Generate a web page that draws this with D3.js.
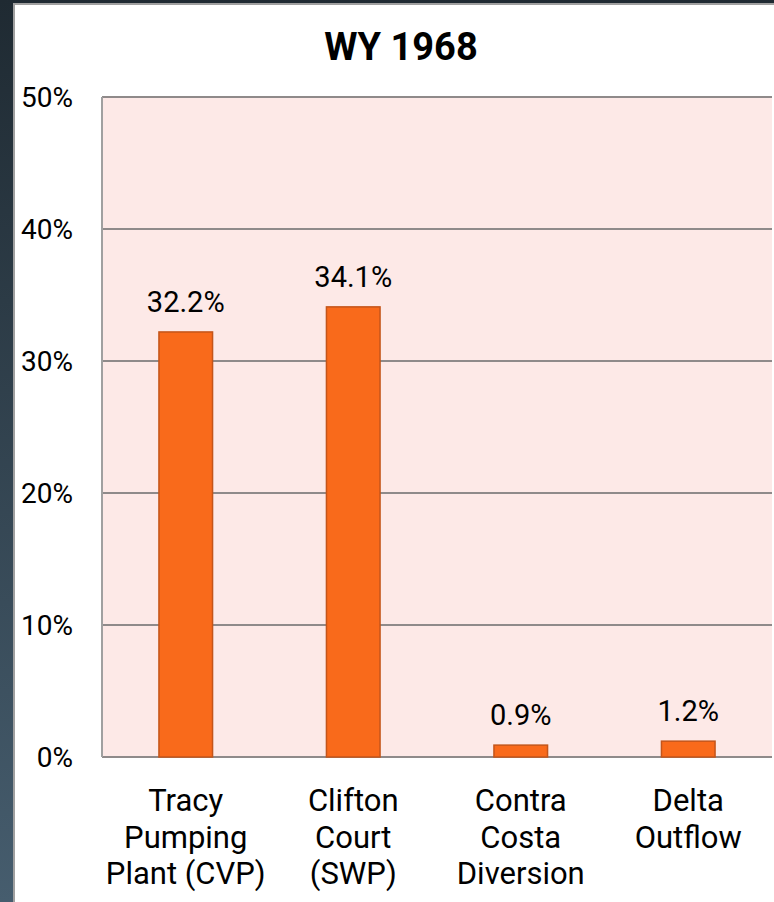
<!DOCTYPE html>
<html>
<head>
<meta charset="utf-8">
<script src="https://cdn.jsdelivr.net/npm/d3@7"></script>
<style>
  html, body { margin: 0; padding: 0; background: #26333d; }
  svg { display: block; }
  text { font-family: Roboto, "DejaVu Sans", sans-serif; fill: #000; }
</style>
</head>
<body>
<div id="wrapper"></div>
<script>
// data
const title = "WY 1968"
const categories = [
  ["Tracy", "Pumping", "Plant (CVP)"],
  ["Clifton", "Court", "(SWP)"],
  ["Contra", "Costa", "Diversion"],
  ["Delta", "Outflow"],
]
const shares = [32.2, 34.1, 0.9, 1.2]
const yTicks = [0, 10, 20, 30, 40, 50]

function drawBars() {

  // 1. Dimensions
  let dimensions = {
    width: 774,
    height: 902,
    margin: { top: 97, right: 2, bottom: 145, left: 102 },
  }
  dimensions.boundedWidth = dimensions.width
    - dimensions.margin.left
    - dimensions.margin.right
  dimensions.boundedHeight = dimensions.height
    - dimensions.margin.top
    - dimensions.margin.bottom

  // 2. Canvas
  const wrapper = d3.select("#wrapper")
    .append("svg")
      .attr("width", dimensions.width)
      .attr("height", dimensions.height)

  // slide background behind the chart panel
  const grad = wrapper.append("defs").append("linearGradient")
      .attr("id", "bg").attr("x1", 0).attr("y1", 0).attr("x2", 0).attr("y2", 1)
  grad.append("stop").attr("offset", "0%").attr("stop-color", "#1f2a32")
  grad.append("stop").attr("offset", "100%").attr("stop-color", "#465d6e")

  wrapper.append("rect")
      .attr("width", dimensions.width)
      .attr("height", dimensions.height)
      .attr("fill", "url(#bg)")

  wrapper.append("rect")
      .attr("x", 14)
      .attr("y", 4)
      .attr("width", dimensions.width)
      .attr("height", dimensions.height)
      .attr("fill", "#fff")
      .attr("stroke", "#a0a0a0")
      .attr("stroke-width", 2)

  const bounds = wrapper.append("g")
      .attr("transform", `translate(${dimensions.margin.left}, ${dimensions.margin.top})`)

  // 3. Scales
  const xScale = d3.scaleBand()
    .domain(d3.range(shares.length))
    .range([0, dimensions.boundedWidth])
    .paddingInner(0.68)
    .paddingOuter(0.34)

  const yScale = d3.scaleLinear()
    .domain([0, 50])
    .range([dimensions.boundedHeight, 0])

  // 4. Plot area + gridlines
  bounds.append("rect")
      .attr("width", dimensions.boundedWidth)
      .attr("height", dimensions.boundedHeight)
      .attr("fill", "#fde9e7")

  bounds.append("g")
    .selectAll("line")
    .data(yTicks)
    .join("line")
      .attr("x1", 0)
      .attr("x2", dimensions.boundedWidth)
      .attr("y1", d => yScale(d))
      .attr("y2", d => yScale(d))
      .attr("stroke", "#8f8a8a")
      .attr("stroke-width", 2)

  bounds.append("line")
      .attr("x1", 0).attr("x2", 0)
      .attr("y1", 0).attr("y2", dimensions.boundedHeight)
      .attr("stroke", "#a0a0a0")
      .attr("stroke-width", 2)

  // 5. Bars
  bounds.append("g")
    .selectAll("rect")
    .data(shares)
    .join("rect")
      .attr("x", (d, i) => xScale(i))
      .attr("y", d => yScale(d))
      .attr("width", xScale.bandwidth())
      .attr("height", d => yScale(0) - yScale(d))
      .attr("fill", "#f96a1b")
      .attr("stroke", "#c4551a")
      .attr("stroke-width", 1.5)

  bounds.append("g")
    .selectAll("text")
    .data(shares)
    .join("text")
      .attr("x", (d, i) => xScale(i) + xScale.bandwidth() / 2)
      .attr("y", d => yScale(d) - 20)
      .attr("text-anchor", "middle")
      .style("font-size", "29px")
      .text(d => d.toFixed(1) + "%")

  // 6. Peripherals
  const yAxis = bounds.append("g")
  yAxis.selectAll("text")
    .data(yTicks)
    .join("text")
      .attr("x", -29)
      .attr("y", d => yScale(d))
      .attr("dy", "0.36em")
      .attr("text-anchor", "end")
      .style("font-size", "28px")
      .text(d => d + "%")

  const xAxis = bounds.append("g")
      .attr("transform", `translate(0, ${dimensions.boundedHeight})`)
  xAxis.selectAll("text")
    .data(categories)
    .join("text")
      .attr("x", (d, i) => xScale(i) + xScale.bandwidth() / 2)
      .attr("y", 54)
      .attr("text-anchor", "middle")
      .style("font-size", "31px")
      .selectAll("tspan")
      .data(d => d)
      .join("tspan")
        .attr("x", function () { return d3.select(this.parentNode).attr("x") })
        .attr("dy", (d, i) => i === 0 ? 0 : 36.5)
        .text(d => d)

  wrapper.append("text")
      .attr("x", 401)
      .attr("y", 60)
      .attr("text-anchor", "middle")
      .style("font-size", "38px")
      .style("font-weight", "bold")
      .text(title)
}
drawBars()
</script>
</body>
</html>
